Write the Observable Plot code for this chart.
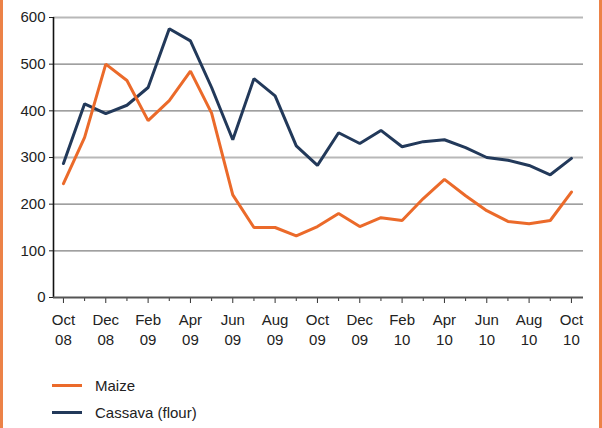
<!DOCTYPE html>
<html>
<head>
<meta charset="utf-8">
<script src="https://cdn.jsdelivr.net/npm/d3@7"></script>
<script src="https://cdn.jsdelivr.net/npm/@observablehq/plot@0.6"></script>
<style>
  html, body { margin: 0; padding: 0; background: #fff; }
  #wrap { position: relative; width: 602px; height: 428px; overflow: hidden; font-family: "Liberation Sans", Arial, sans-serif; }
  .border { position: absolute; top: 0; bottom: 0; width: 3px; background: #ec8247; }
  #legend { position: absolute; left: 52px; top: 372px; font-size: 15px; color: #222; }
  .item { display: flex; align-items: center; height: 27px; }
  .swatch { width: 30px; height: 3px; margin-right: 13px; }
</style>
</head>
<body>
<div id="wrap">
  <div id="chart"></div>
  <div id="legend"></div>
  <div class="border" style="left:0"></div>
  <div class="border" style="right:0"></div>
</div>
<script>
const months = ["Oct 08","Nov 08","Dec 08","Jan 09","Feb 09","Mar 09","Apr 09","May 09","Jun 09","Jul 09","Aug 09","Sep 09","Oct 09","Nov 09","Dec 09","Jan 10","Feb 10","Mar 10","Apr 10","May 10","Jun 10","Jul 10","Aug 10","Sep 10","Oct 10"];
const maize = [244, 343, 500, 465, 379, 422, 485, 395, 220, 150, 150, 132, 152, 180, 152, 171, 165, 212, 253, 218, 186, 163, 158, 165, 226];
const cassava = [287, 415, 394, 412, 450, 576, 550, 450, 338, 469, 432, 325, 283, 353, 330, 358, 323, 334, 338, 321, 300, 294, 283, 263, 298];
const seriesNames = ["Maize", "Cassava (flour)"];
const seriesColors = ["#eb6a2a", "#22395a"];
const yTicks = [0, 100, 200, 300, 400, 500, 600];
const gridDark = [100, 200, 400, 500];
const gridLight = [300, 600];

const rows = [];
months.forEach((m, i) => {
  rows.push({i, month: m, series: seriesNames[0], value: maize[i]});
  rows.push({i, month: m, series: seriesNames[1], value: cassava[i]});
});
const idx = months.map((_, i) => i);
const major = idx.filter(i => i % 2 === 0);
const minor = idx.filter(i => i % 2 === 1);

const chart = Plot.plot({
  width: 602,
  height: 350,
  marginLeft: 53,
  marginRight: 19,
  marginTop: 17,
  marginBottom: 53,
  style: {fontFamily: "'Liberation Sans', Arial, sans-serif", fontSize: "15px", color: "#222", background: "transparent"},
  x: {domain: [-0.47, 24.57], axis: null},
  y: {domain: [0, 600], axis: null},
  color: {domain: seriesNames, range: seriesColors},
  marks: [
    Plot.ruleY(gridDark, {stroke: "#808080", strokeWidth: 1.3}),
    Plot.ruleY(gridLight, {stroke: "#b8b8b8", strokeWidth: 2.2}),
    Plot.axisY({ticks: yTicks, label: null, tickSize: 4, tickPadding: 4, tickFormat: d => String(d), stroke: "#222", fill: "#222", fontSize: 15}),
    Plot.axisX({ticks: major, label: null, tickSize: 6, tickPadding: 7, tickFormat: i => months[i].replace(" ", "\n"), lineHeight: 1.35, stroke: "#333", fill: "#222", fontSize: 15}),
    Plot.axisX({ticks: minor, label: null, tickSize: 4, tickFormat: () => "", stroke: "#333"}),
    Plot.ruleX([0], {x: () => -0.47, y1: 0, y2: 600, stroke: "#111", strokeWidth: 1.6}),
    Plot.ruleY([0], {stroke: "#555", strokeWidth: 2.2}),
    Plot.line(rows.filter(d => d.series === seriesNames[1]), {x: "i", y: "value", stroke: "series", strokeWidth: 3, strokeLinejoin: "miter"}),
    Plot.line(rows.filter(d => d.series === seriesNames[0]), {x: "i", y: "value", stroke: "series", strokeWidth: 3, strokeLinejoin: "miter"})
  ]
});
document.getElementById("chart").appendChild(chart);

const legend = document.getElementById("legend");
seriesNames.forEach((name, k) => {
  const item = document.createElement("div");
  item.className = "item";
  const sw = document.createElement("span");
  sw.className = "swatch";
  sw.style.background = seriesColors[k];
  const label = document.createElement("span");
  label.textContent = name;
  item.appendChild(sw);
  item.appendChild(label);
  legend.appendChild(item);
});
</script>
</body>
</html>
